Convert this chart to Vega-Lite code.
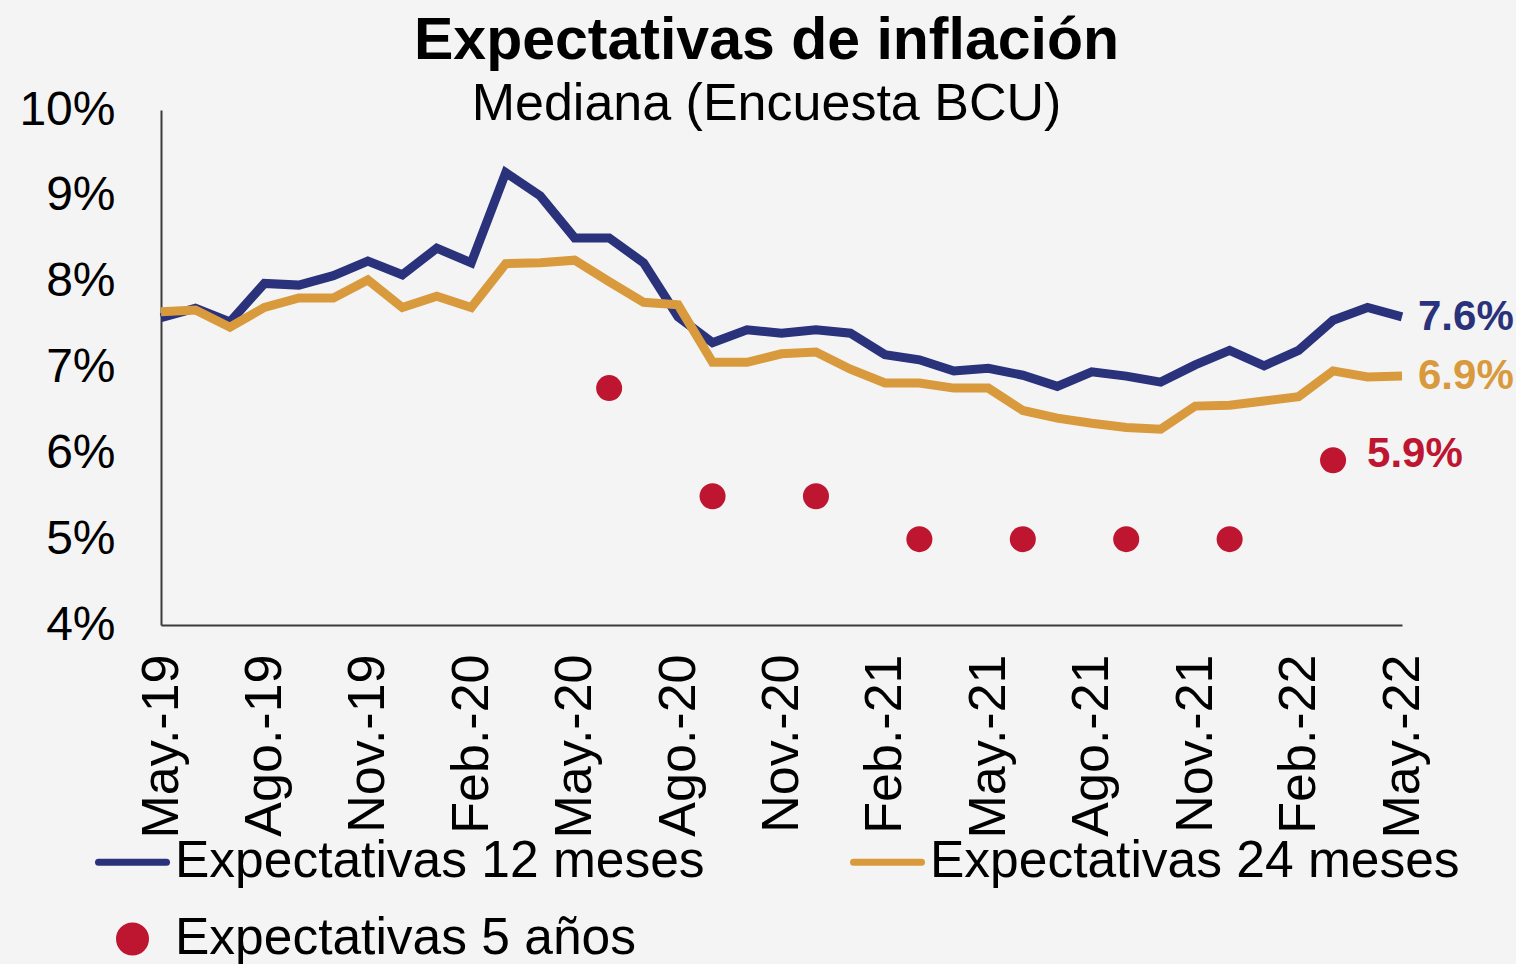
{
  "$schema": "https://vega.github.io/schema/vega-lite/v6.json",
  "width": 1241,
  "height": 515,
  "autosize": {"type": "none"},
  "padding": {"left": 161, "top": 110, "right": 114, "bottom": 339},
  "background": "#f4f4f4",
  "config": {"font": "Liberation Sans", "view": {"stroke": null}},
  "title": {
    "text": "Expectativas de inflación",
    "subtitle": "Mediana (Encuesta BCU)",
    "font": "Liberation Sans",
    "fontSize": 59,
    "fontWeight": "bold",
    "color": "#000000",
    "subtitleFont": "Liberation Sans",
    "subtitleFontSize": 52,
    "subtitleColor": "#000000",
    "subtitlePadding": 8,
    "anchor": "middle",
    "dx": -15,
    "offset": -44
  },
  "data": {"values": [
    {"mes": "May.-19", "serie": "Expectativas 12 meses", "valor": 7.58},
    {"mes": "Jun.-19", "serie": "Expectativas 12 meses", "valor": 7.69},
    {"mes": "Jul.-19", "serie": "Expectativas 12 meses", "valor": 7.53},
    {"mes": "Ago.-19", "serie": "Expectativas 12 meses", "valor": 7.98},
    {"mes": "Set.-19", "serie": "Expectativas 12 meses", "valor": 7.96},
    {"mes": "Oct.-19", "serie": "Expectativas 12 meses", "valor": 8.07},
    {"mes": "Nov.-19", "serie": "Expectativas 12 meses", "valor": 8.24},
    {"mes": "Dic.-19", "serie": "Expectativas 12 meses", "valor": 8.08},
    {"mes": "Ene.-20", "serie": "Expectativas 12 meses", "valor": 8.39},
    {"mes": "Feb.-20", "serie": "Expectativas 12 meses", "valor": 8.22},
    {"mes": "Mar.-20", "serie": "Expectativas 12 meses", "valor": 9.27},
    {"mes": "Abr.-20", "serie": "Expectativas 12 meses", "valor": 9.0},
    {"mes": "May.-20", "serie": "Expectativas 12 meses", "valor": 8.51},
    {"mes": "Jun.-20", "serie": "Expectativas 12 meses", "valor": 8.51},
    {"mes": "Jul.-20", "serie": "Expectativas 12 meses", "valor": 8.22},
    {"mes": "Ago.-20", "serie": "Expectativas 12 meses", "valor": 7.59},
    {"mes": "Set.-20", "serie": "Expectativas 12 meses", "valor": 7.29},
    {"mes": "Oct.-20", "serie": "Expectativas 12 meses", "valor": 7.44},
    {"mes": "Nov.-20", "serie": "Expectativas 12 meses", "valor": 7.4},
    {"mes": "Dic.-20", "serie": "Expectativas 12 meses", "valor": 7.44},
    {"mes": "Ene.-21", "serie": "Expectativas 12 meses", "valor": 7.4},
    {"mes": "Feb.-21", "serie": "Expectativas 12 meses", "valor": 7.15},
    {"mes": "Mar.-21", "serie": "Expectativas 12 meses", "valor": 7.09},
    {"mes": "Abr.-21", "serie": "Expectativas 12 meses", "valor": 6.96},
    {"mes": "May.-21", "serie": "Expectativas 12 meses", "valor": 6.99},
    {"mes": "Jun.-21", "serie": "Expectativas 12 meses", "valor": 6.91},
    {"mes": "Jul.-21", "serie": "Expectativas 12 meses", "valor": 6.78},
    {"mes": "Ago.-21", "serie": "Expectativas 12 meses", "valor": 6.95},
    {"mes": "Set.-21", "serie": "Expectativas 12 meses", "valor": 6.9},
    {"mes": "Oct.-21", "serie": "Expectativas 12 meses", "valor": 6.83},
    {"mes": "Nov.-21", "serie": "Expectativas 12 meses", "valor": 7.03},
    {"mes": "Dic.-21", "serie": "Expectativas 12 meses", "valor": 7.2},
    {"mes": "Ene.-22", "serie": "Expectativas 12 meses", "valor": 7.02},
    {"mes": "Feb.-22", "serie": "Expectativas 12 meses", "valor": 7.2},
    {"mes": "Mar.-22", "serie": "Expectativas 12 meses", "valor": 7.55},
    {"mes": "Abr.-22", "serie": "Expectativas 12 meses", "valor": 7.7},
    {"mes": "May.-22", "serie": "Expectativas 12 meses", "valor": 7.59, "etiqueta": "7.6%"},
    {"mes": "May.-19", "serie": "Expectativas 24 meses", "valor": 7.65},
    {"mes": "Jun.-19", "serie": "Expectativas 24 meses", "valor": 7.67},
    {"mes": "Jul.-19", "serie": "Expectativas 24 meses", "valor": 7.47},
    {"mes": "Ago.-19", "serie": "Expectativas 24 meses", "valor": 7.7},
    {"mes": "Set.-19", "serie": "Expectativas 24 meses", "valor": 7.81},
    {"mes": "Oct.-19", "serie": "Expectativas 24 meses", "valor": 7.81},
    {"mes": "Nov.-19", "serie": "Expectativas 24 meses", "valor": 8.02},
    {"mes": "Dic.-19", "serie": "Expectativas 24 meses", "valor": 7.7},
    {"mes": "Ene.-20", "serie": "Expectativas 24 meses", "valor": 7.83},
    {"mes": "Feb.-20", "serie": "Expectativas 24 meses", "valor": 7.7},
    {"mes": "Mar.-20", "serie": "Expectativas 24 meses", "valor": 8.21},
    {"mes": "Abr.-20", "serie": "Expectativas 24 meses", "valor": 8.22},
    {"mes": "May.-20", "serie": "Expectativas 24 meses", "valor": 8.25},
    {"mes": "Jun.-20", "serie": "Expectativas 24 meses", "valor": 8.0},
    {"mes": "Jul.-20", "serie": "Expectativas 24 meses", "valor": 7.76},
    {"mes": "Ago.-20", "serie": "Expectativas 24 meses", "valor": 7.73},
    {"mes": "Set.-20", "serie": "Expectativas 24 meses", "valor": 7.06},
    {"mes": "Oct.-20", "serie": "Expectativas 24 meses", "valor": 7.06},
    {"mes": "Nov.-20", "serie": "Expectativas 24 meses", "valor": 7.16},
    {"mes": "Dic.-20", "serie": "Expectativas 24 meses", "valor": 7.18},
    {"mes": "Ene.-21", "serie": "Expectativas 24 meses", "valor": 6.98},
    {"mes": "Feb.-21", "serie": "Expectativas 24 meses", "valor": 6.82},
    {"mes": "Mar.-21", "serie": "Expectativas 24 meses", "valor": 6.82},
    {"mes": "Abr.-21", "serie": "Expectativas 24 meses", "valor": 6.76},
    {"mes": "May.-21", "serie": "Expectativas 24 meses", "valor": 6.76},
    {"mes": "Jun.-21", "serie": "Expectativas 24 meses", "valor": 6.5},
    {"mes": "Jul.-21", "serie": "Expectativas 24 meses", "valor": 6.41},
    {"mes": "Ago.-21", "serie": "Expectativas 24 meses", "valor": 6.35},
    {"mes": "Set.-21", "serie": "Expectativas 24 meses", "valor": 6.3},
    {"mes": "Oct.-21", "serie": "Expectativas 24 meses", "valor": 6.28},
    {"mes": "Nov.-21", "serie": "Expectativas 24 meses", "valor": 6.55},
    {"mes": "Dic.-21", "serie": "Expectativas 24 meses", "valor": 6.56},
    {"mes": "Ene.-22", "serie": "Expectativas 24 meses", "valor": 6.61},
    {"mes": "Feb.-22", "serie": "Expectativas 24 meses", "valor": 6.66},
    {"mes": "Mar.-22", "serie": "Expectativas 24 meses", "valor": 6.96},
    {"mes": "Abr.-22", "serie": "Expectativas 24 meses", "valor": 6.89},
    {"mes": "May.-22", "serie": "Expectativas 24 meses", "valor": 6.9, "etiqueta": "6.9%"},
    {"mes": "Jun.-20", "serie": "Expectativas 5 años", "valor": 6.76},
    {"mes": "Set.-20", "serie": "Expectativas 5 años", "valor": 5.5},
    {"mes": "Dic.-20", "serie": "Expectativas 5 años", "valor": 5.5},
    {"mes": "Mar.-21", "serie": "Expectativas 5 años", "valor": 5.0},
    {"mes": "Jun.-21", "serie": "Expectativas 5 años", "valor": 5.0},
    {"mes": "Set.-21", "serie": "Expectativas 5 años", "valor": 5.0},
    {"mes": "Dic.-21", "serie": "Expectativas 5 años", "valor": 5.0},
    {"mes": "Mar.-22", "serie": "Expectativas 5 años", "valor": 5.92, "etiqueta": "5.9%"}
  ]},
  "encoding": {
    "x": {
      "field": "mes",
      "type": "ordinal",
      "scale": {"type": "point", "padding": 0, "domain": ["May.-19","Jun.-19","Jul.-19","Ago.-19","Set.-19","Oct.-19","Nov.-19","Dic.-19","Ene.-20","Feb.-20","Mar.-20","Abr.-20","May.-20","Jun.-20","Jul.-20","Ago.-20","Set.-20","Oct.-20","Nov.-20","Dic.-20","Ene.-21","Feb.-21","Mar.-21","Abr.-21","May.-21","Jun.-21","Jul.-21","Ago.-21","Set.-21","Oct.-21","Nov.-21","Dic.-21","Ene.-22","Feb.-22","Mar.-22","Abr.-22","May.-22"]},
      "axis": {
        "title": null,
        "values": ["May.-19","Ago.-19","Nov.-19","Feb.-20","May.-20","Ago.-20","Nov.-20","Feb.-21","May.-21","Ago.-21","Nov.-21","Feb.-22","May.-22"],
        "labelAngle": -90,
        "labelAlign": "right",
        "labelBaseline": "middle",
        "labelFont": "Liberation Sans",
        "labelFontSize": 52,
        "labelColor": "#000000",
        "labelPadding": 29,
        "labelLimit": 400,
        "labelOverlap": false,
        "ticks": false,
        "tickSize": 0,
        "grid": false,
        "domainColor": "#3a3a3a",
        "domainWidth": 2
      }
    },
    "y": {
      "field": "valor",
      "type": "quantitative",
      "scale": {"domain": [4, 10], "nice": false, "zero": false},
      "axis": {
        "title": null,
        "values": [4, 5, 6, 7, 8, 9, 10],
        "labelExpr": "datum.value + '%'",
        "labelFont": "Liberation Sans",
        "labelFontSize": 48,
        "labelColor": "#000000",
        "labelPadding": 46,
        "ticks": false,
        "tickSize": 0,
        "grid": false,
        "domainColor": "#3a3a3a",
        "domainWidth": 2
      }
    },
    "color": {
      "field": "serie",
      "type": "nominal",
      "scale": {
        "domain": ["Expectativas 12 meses", "Expectativas 24 meses", "Expectativas 5 años"],
        "range": ["#29327a", "#d99a3d", "#be1530"]
      },
      "legend": {
        "title": null,
        "orient": "none",
        "direction": "horizontal",
        "legendX": -66,
        "legendY": 727,
        "columns": 2,
        "columnPadding": 145,
        "rowPadding": 25,
        "padding": 0,
        "clipHeight": 50,
        "symbolType": "stroke",
        "symbolSize": 4624,
        "symbolStrokeWidth": 7,
        "symbolOffset": 0,
        "labelFont": "Liberation Sans",
        "labelFontSize": 51.5,
        "labelColor": "#000000",
        "labelOffset": 5,
        "labelLimit": 900,
        "encode": {
          "symbols": {
            "update": {
              "shape": {"signal": "datum.value === 'Expectativas 5 años' ? 'M-0.382,0A0.382,0.382,0,1,0,0.382,0A0.382,0.382,0,1,0,-0.382,0Z' : 'stroke'"},
              "stroke": {"signal": "datum.value === 'Expectativas 5 años' ? 'transparent' : scale('color', datum.value)"},
              "fill": {"scale": "color", "field": "value"},
              "strokeCap": {"value": "round"},
              "opacity": {"value": 1}
            }
          }
        }
      }
    }
  },
  "layer": [
    {
      "transform": [{"filter": "datum.serie === 'Expectativas 12 meses'"}],
      "mark": {"type": "line", "strokeWidth": 9}
    },
    {
      "transform": [{"filter": "datum.serie === 'Expectativas 24 meses'"}],
      "mark": {"type": "line", "strokeWidth": 9}
    },
    {
      "transform": [{"filter": "datum.serie === 'Expectativas 5 años'"}],
      "mark": {"type": "point", "shape": "circle", "filled": true, "size": 676, "opacity": 1}
    },
    {
      "transform": [{"filter": "datum.etiqueta && datum.serie !== 'Expectativas 5 años'"}],
      "mark": {"type": "text", "align": "left", "baseline": "middle", "dx": 16, "fontSize": 42, "fontWeight": "bold", "font": "Liberation Sans"},
      "encoding": {
        "text": {"field": "etiqueta"},
        "color": {"field": "serie", "type": "nominal", "legend": null}
      }
    },
    {
      "transform": [{"filter": "datum.etiqueta && datum.serie === 'Expectativas 5 años'"}],
      "mark": {"type": "text", "align": "left", "baseline": "middle", "dx": 34, "dy": -6, "fontSize": 42, "fontWeight": "bold", "font": "Liberation Sans"},
      "encoding": {
        "text": {"field": "etiqueta"},
        "color": {"field": "serie", "type": "nominal", "legend": null}
      }
    }
  ]
}
